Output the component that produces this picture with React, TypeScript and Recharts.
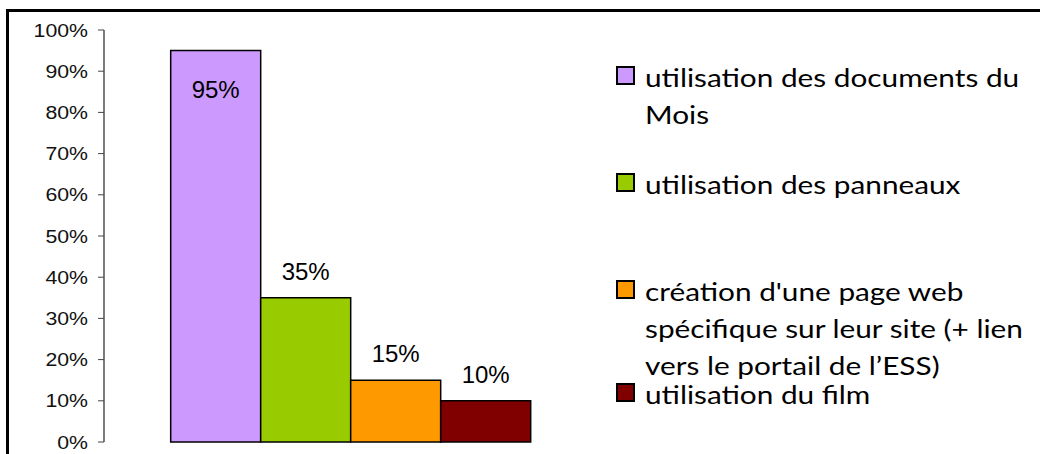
import { BarChart, Bar, XAxis, YAxis, LabelList } from 'recharts';

const categories = [
  'utilisation des documents du Mois',
  'utilisation des panneaux',
  "création d'une page web spécifique sur leur site (+ lien vers le portail de l’ESS)",
  'utilisation du film',
];
const legendLines = [
  ['utilisation des documents du', 'Mois'],
  ['utilisation des panneaux'],
  ["création d'une page web", 'spécifique sur leur site (+ lien', 'vers le portail de l’ESS)'],
  ['utilisation du film'],
];
const values = [95, 35, 15, 10];
const yTicks = [0, 10, 20, 30, 40, 50, 60, 70, 80, 90, 100];

const colors = ['#CC99FF', '#99CC00', '#FF9900', '#800000'];
const legendTops = [59, 166, 273, 376];

const row: Record<string, number | string> = { name: '' };
values.forEach((v, i) => {
  row['s' + i] = v;
});
const data = [row];

const YTick = (props: any) => {
  const { x, y, payload } = props;
  return (
    <text
      transform={`translate(${x},${y + 6.5}) scale(1.15,1)`}
      textAnchor="end"
      fontFamily="'Liberation Sans', Arial, sans-serif"
      fontSize={18.5}
      fill="#111"
    >
      {payload.value}%
    </text>
  );
};

const renderLabel = (props: any) => {
  const { x, y, width, value } = props;
  const inside = value > 90;
  return (
    <text
      x={x + width / 2}
      y={inside ? y + 47 : y - 18}
      textAnchor="middle"
      fontFamily="'Liberation Sans', Arial, sans-serif"
      fontSize={24}
      fill="#000"
    >
      {value}%
    </text>
  );
};

export default function App() {
  return (
    <div
      style={{
        position: 'absolute',
        left: 0,
        top: 0,
        width: 1040,
        height: 454,
        background: '#fff',
        overflow: 'hidden',
      }}
    >
      <div
        style={{
          position: 'absolute',
          left: 6,
          top: 9,
          width: 1040,
          height: 454,
          borderTop: '3px solid #000',
          borderLeft: '3px solid #000',
        }}
      />
      <div style={{ position: 'absolute', left: 0, top: 0 }}>
        <BarChart
          width={1040}
          height={454}
          data={data}
          margin={{ top: 30, right: 442, left: 8, bottom: 12 }}
          barGap={0}
          barCategoryGap="13.5%"
        >
          <XAxis dataKey="name" hide />
          <YAxis
            domain={[0, 100]}
            ticks={yTicks}
            width={96}
            tickSize={6}
            tickMargin={10}
            interval={0}
            axisLine={{ stroke: '#222', strokeWidth: 1.2 }}
            tickLine={{ stroke: '#444' }}
            tick={<YTick />}
          />
          {values.map((_, i) => (
            <Bar
              key={i}
              dataKey={'s' + i}
              name={categories[i]}
              fill={colors[i]}
              stroke="#000"
              strokeWidth={1.5}
              isAnimationActive={false}
            >
              <LabelList dataKey={'s' + i} content={renderLabel} />
            </Bar>
          ))}
        </BarChart>
      </div>
      {categories.map((c, i) => (
        <div
          key={c}
          style={{
            position: 'absolute',
            left: 616,
            top: legendTops[i],
            display: 'flex',
            alignItems: 'flex-start',
          }}
        >
          <div
            style={{
              width: 15,
              height: 15,
              marginTop: 7,
              background: colors[i],
              border: '2px solid #000',
            }}
          />
          <div
            style={{
              marginLeft: 10,
              fontFamily: 'Lato, sans-serif',
              fontSize: 25,
              lineHeight: '37px',
              color: '#000',
              transform: 'scaleX(1.19)',
              transformOrigin: 'left top',
              whiteSpace: 'nowrap',
            }}
          >
            {legendLines[i].map((l) => (
              <div key={l}>{l}</div>
            ))}
          </div>
        </div>
      ))}
    </div>
  );
}
